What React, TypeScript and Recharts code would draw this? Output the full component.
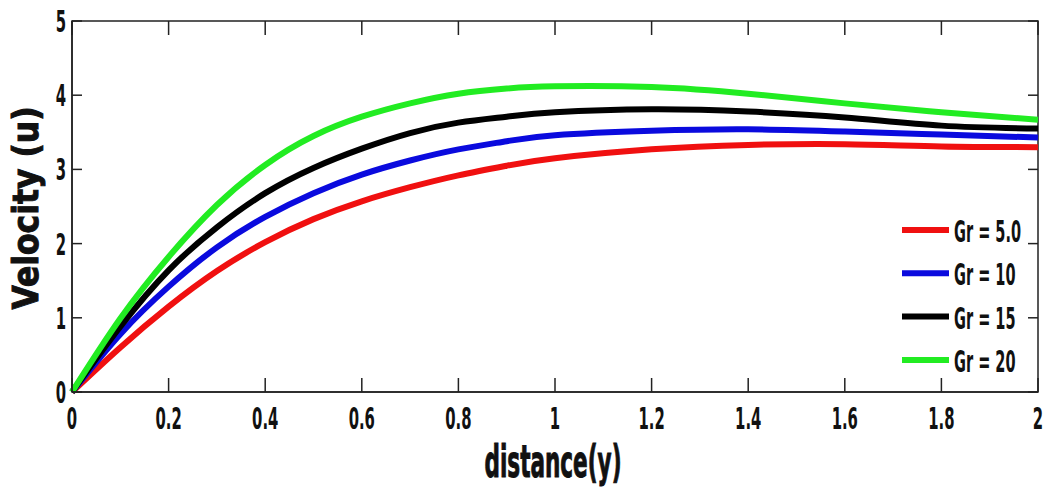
import { LineChart, Line, XAxis, YAxis, Legend, ReferenceArea } from "recharts";

const distance = [0, 0.1, 0.2, 0.3, 0.4, 0.5, 0.6, 0.7, 0.8, 0.9, 1.0, 1.2, 1.4, 1.6, 1.8, 2.0];
const gr5 = [0, 0.6, 1.15, 1.63, 2.02, 2.33, 2.57, 2.76, 2.92, 3.05, 3.15, 3.27, 3.33, 3.34, 3.31, 3.3];
const gr10 = [0, 0.78, 1.42, 1.95, 2.36, 2.68, 2.93, 3.12, 3.27, 3.38, 3.46, 3.52, 3.54, 3.51, 3.47, 3.43];
const gr15 = [0, 0.88, 1.64, 2.22, 2.68, 3.02, 3.28, 3.49, 3.63, 3.71, 3.77, 3.81, 3.78, 3.7, 3.59, 3.55];
const gr20 = [0, 0.99, 1.82, 2.52, 3.06, 3.45, 3.71, 3.89, 4.02, 4.09, 4.12, 4.11, 4.02, 3.89, 3.77, 3.67];

const xTicks = [0, 0.2, 0.4, 0.6, 0.8, 1, 1.2, 1.4, 1.6, 1.8, 2];
const yTicks = [0, 1, 2, 3, 4, 5];

const series = [
  { key: "gr5", name: "Gr = 5.0", values: gr5, color: "#f01010" },
  { key: "gr10", name: "Gr = 10", values: gr10, color: "#0a0ade" },
  { key: "gr15", name: "Gr = 15", values: gr15, color: "#000000" },
  { key: "gr20", name: "Gr = 20", values: gr20, color: "#22ec22" },
];

const data = distance.map((x, i) => {
  const row: Record<string, number> = { x };
  series.forEach((s) => (row[s.key] = s.values[i]));
  return row;
});

const W = 1044;
const H = 490;
const PLOT_LEFT = 72;
const PLOT_RIGHT = 1038;
const PLOT_TOP = 21;
const PLOT_BOTTOM = 392;
const FONT = "'DejaVu Sans Condensed', 'DejaVu Sans', sans-serif";
const AXIS = "#222";

const BottomTick = (props: any) => {
  const { x, payload } = props;
  return (
    <g>
      <line x1={x} x2={x} y1={PLOT_BOTTOM} y2={PLOT_BOTTOM - 14} stroke={AXIS} strokeWidth={1.5} />
      <line x1={x} x2={x} y1={PLOT_TOP} y2={PLOT_TOP + 14} stroke={AXIS} strokeWidth={1.5} />
      <text
        transform={`translate(${x},429) scale(0.55,1)`}
        textAnchor="middle"
        fontFamily={FONT}
        fontWeight="bold"
        fontSize={30}
        fill="#111"
      >
        {String(payload.value)}
      </text>
    </g>
  );
};

const LeftTick = (props: any) => {
  const { y, payload } = props;
  return (
    <g>
      <line x1={PLOT_LEFT} x2={PLOT_LEFT + 10} y1={y} y2={y} stroke={AXIS} strokeWidth={1.5} />
      <line x1={PLOT_RIGHT} x2={PLOT_RIGHT - 10} y1={y} y2={y} stroke={AXIS} strokeWidth={1.5} />
      <text
        transform={`translate(66,${y + 11}) scale(0.55,1)`}
        textAnchor="end"
        fontFamily={FONT}
        fontWeight="bold"
        fontSize={30}
        fill="#111"
      >
        {String(payload.value)}
      </text>
    </g>
  );
};

const XTitle = () => (
  <g>
    <text
      x={553}
      y={477}
      textAnchor="middle"
      fontFamily={FONT}
      fontWeight="bold"
      fontSize={44}
      textLength={137}
      lengthAdjust="spacingAndGlyphs"
      fill="#111"
      stroke="#111"
      strokeWidth={1}
    >
      distance(y)
    </text>
  </g>
);

const YTitle = () => (
  <g transform="translate(38,208) rotate(-90)">
    <text
      x={0}
      y={0}
      textAnchor="middle"
      fontFamily={FONT}
      fontWeight="bold"
      fontSize={36}
      textLength={203}
      lengthAdjust="spacingAndGlyphs"
      fill="#111"
      stroke="#111"
      strokeWidth={1}
    >
      Velocity (u)
    </text>
  </g>
);

// legend rows drawn by hand; text stretched tall to mimic the condensed font
const renderLegend = () => (
  <svg width={149} height={180}>
    {series.map((s, i) => {
      const cy = 15 + i * 43.3;
      return (
        <g key={s.key}>
          <line x1={7} x2={54} y1={cy} y2={cy} stroke={s.color} strokeWidth={6} />
          <text
            transform={`translate(59,${cy + 12}) scale(0.95,1.75)`}
            fontFamily={FONT}
            fontWeight="bold"
            fontSize={17}
            fill="#111"
          >
            {s.name}
          </text>
        </g>
      );
    })}
  </svg>
);

export default function App() {
  return (
    <div style={{ position: "absolute", left: 0, top: 0, width: W, height: H, background: "#fff" }}>
      <LineChart
        width={W}
        height={H}
        data={data}
        margin={{ top: PLOT_TOP, right: W - PLOT_RIGHT, bottom: 0, left: 0 }}
      >
        <ReferenceArea x1={0} x2={2} y1={0} y2={5} fill="none" stroke={AXIS} strokeWidth={1.5} ifOverflow="visible" />
        <XAxis
          dataKey="x"
          type="number"
          domain={[0, 2]}
          ticks={xTicks}
          height={H - PLOT_BOTTOM}
          tickLine={false}
          axisLine={{ stroke: AXIS, strokeWidth: 1.5 }}
          tick={<BottomTick />}
          interval={0}
          label={() => <XTitle />}
        />
        <YAxis
          type="number"
          domain={[0, 5]}
          ticks={yTicks}
          width={PLOT_LEFT}
          tickLine={false}
          axisLine={{ stroke: AXIS, strokeWidth: 1.5 }}
          tick={<LeftTick />}
          interval={0}
          label={() => <YTitle />}
        />
        <Legend
          layout="vertical"
          align="center"
          verticalAlign="middle"
          content={renderLegend}
          wrapperStyle={{ position: "absolute", left: 895, top: 215, width: 149, height: 180 }}
        />
        {series.map((s) => (
          <Line
            key={s.key}
            dataKey={s.key}
            name={s.name}
            type="natural"
            stroke={s.color}
            strokeWidth={6}
            dot={false}
            activeDot={false}
            isAnimationActive={false}
          />
        ))}
      </LineChart>
    </div>
  );
}
